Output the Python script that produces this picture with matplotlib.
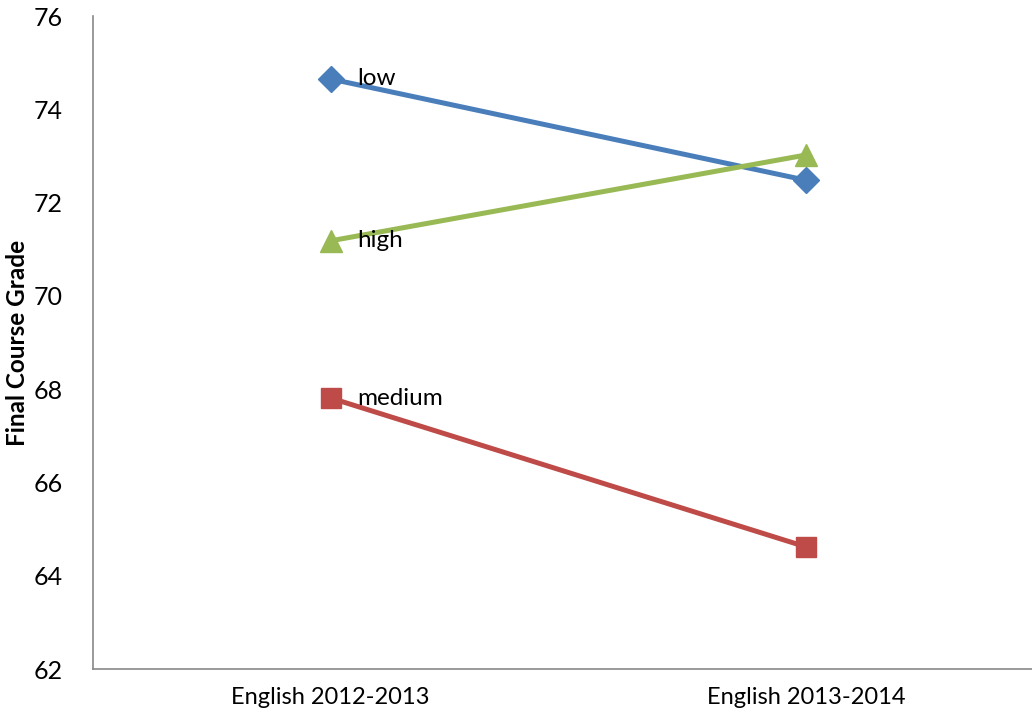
import matplotlib.pyplot as plt

categories = ["English 2012-2013", "English 2013-2014"]
low = [74.65, 72.48]
medium = [67.81, 64.62]
high = [71.18, 73.02]

series = [
    ("low", low, "#4A7EBB", "D", 13),
    ("medium", medium, "#BE4B48", "s", 14.5),
    ("high", high, "#98B954", "^", 16),
]

plt.rcParams['font.family'] = ['Lato', 'DejaVu Sans']

fig = plt.figure(figsize=(10.32, 7.21), dpi=100)
ax = fig.add_axes([0.0901, 0.0721, 0.921, 0.9057])

x = list(range(len(categories)))
for name, vals, color, marker, ms in series:
    ax.plot(x, vals, color=color, lw=3.6, marker=marker, markersize=ms,
            markeredgecolor=color, markerfacecolor=color, solid_capstyle="round")
    ax.annotate(name, (x[0], vals[0]), xytext=(19, 0), textcoords="offset points",
                ha="left", va="center", fontsize=17.5, color="black")

ax.set_xlim(-0.5, 1.5)
ax.set_ylim(62, 76)
ax.set_yticks(range(62, 77, 2))
ax.set_xticks(x)
ax.set_xticklabels(categories, fontsize=17)
ax.tick_params(axis="y", labelsize=18, length=0, pad=22)
ax.tick_params(axis="x", length=0, pad=13)
ax.set_ylabel("Final Course Grade", fontsize=17.5, fontweight="bold", labelpad=3)

for side in ["top", "right"]:
    ax.spines[side].set_visible(False)
for side in ["left", "bottom"]:
    ax.spines[side].set_color("#898989")
    ax.spines[side].set_linewidth(1.2)

fig.savefig("out.png", dpi=100)
